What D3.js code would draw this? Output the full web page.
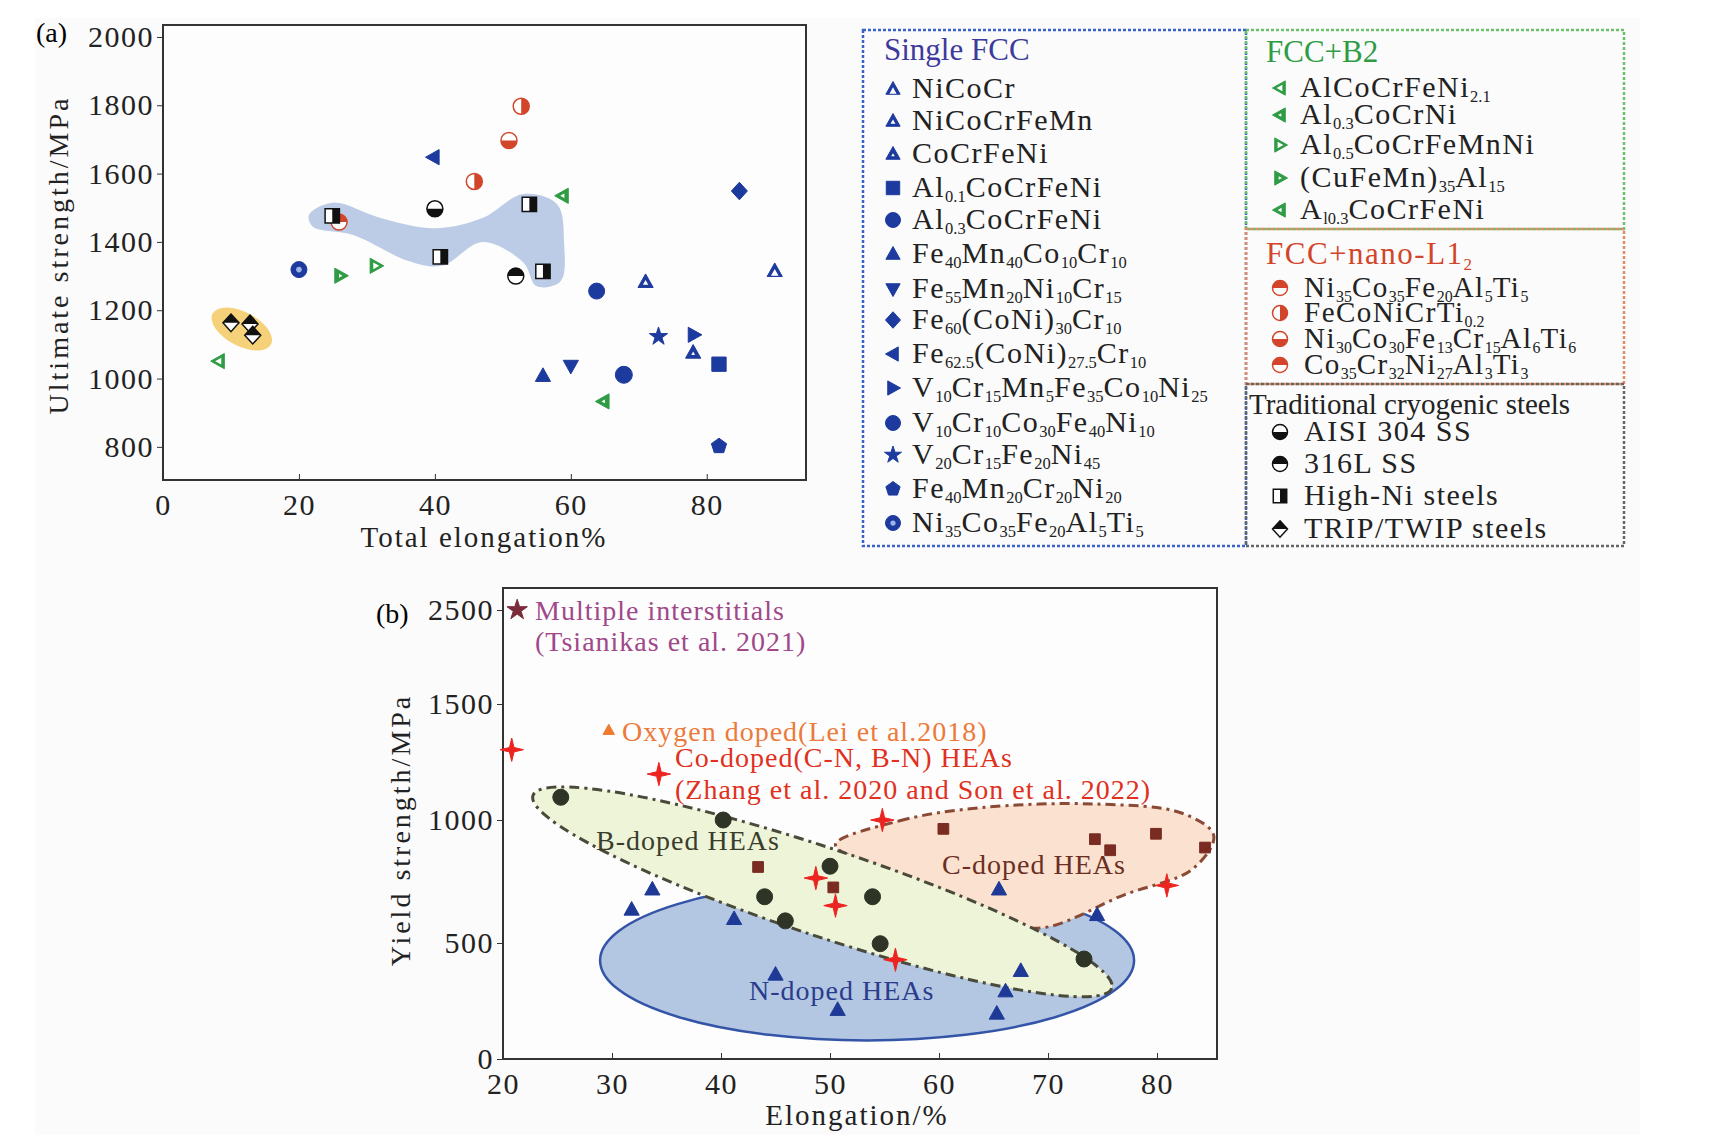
<!DOCTYPE html>
<html><head><meta charset="utf-8">
<script src="https://cdn.jsdelivr.net/npm/d3@7"></script>
<style>
body{margin:0;background:#fff;}
text{font-family:"Liberation Serif","DejaVu Serif",serif;}
</style></head>
<body><svg id="fig" width="1715" height="1142"></svg>
<script>
// ---- panel (a) data: [elongation %, UTS MPa] ----
const niCoCr = [[90, 1315]];
const niCoCrFeMn = [[71, 1283]];
const coCrFeNi = [[78, 1076]];
const al01 = [[81.8, 1042]];
const al03 = [[63.8, 1256]];
const fe40Mn40 = [[55.9, 1008]];
const fe55Mn20 = [[60, 1037]];
const fe60CoNi = [[84.8, 1549]];
const fe625CoNi = [[39.8, 1648]];
const v10Cr15 = [[78.1, 1128]];
const v10Cr10 = [[67.8, 1011]];
const v20Cr15 = [[72.9, 1123]];
const fe40Mn20 = [[81.8, 802]];
const ni35Single = [[20, 1319]];
const alCoCrFeNi21 = [[8.2, 1051]];
const al03CoCrNi = [[64.8, 933]];
const al05 = [[31.3, 1330]];
const cuFeMn = [[26.1, 1301]];
const a103 = [[58.8, 1535]];
const ni35L12 = [[25.9, 1458]];
const feCoNiCrTi = [[52.7, 1797], [45.8, 1577]];
const ni30L12 = [[50.9, 1697]];
const co35L12 = [];
const aisi304 = [[40, 1497]];
const ss316 = [[51.9, 1300]];
const highNi = [[24.9, 1476], [40.8, 1356], [53.9, 1510], [55.9, 1314]];
const tripTwip = [[10, 1163], [12.8, 1160], [13.2, 1127]];
const blobA = [[21.5,1480],[25,1515],[32,1470],[40,1440],[47,1470],[53,1540],[58,1510],[59,1400],[58.5,1285],[55,1270],[53,1340],[47,1400],[41,1330],[36,1345],[28,1420],[22,1445]];
const aXTicks = [0, 20, 40, 60, 80];
const aYTicks = [800, 1000, 1200, 1400, 1600, 1800, 2000];

// ---- panel (b) data: [elongation %, YS MPa] ----
const bDoped = [[25.3,1098],[40.2,1000],[50,812],[44,688],[45.9,590],[53.9,688],[54.6,497],[73.3,431]];
const nDoped = [[31.8,636],[33.7,718],[41.2,598],[45,364],[50.7,212],[65.5,718],[74.5,614],[67.5,380],[66.1,292],[65.3,196]];
const cDoped = [[43.4,809],[50.3,726],[60.4,964],[74.3,922],[75.7,877],[79.9,944],[84.4,888]];
const coDoped = [[20.8,1303],[34.3,1198],[54.8,1000],[48.7,764],[50.5,652],[56,428],[80.9,734]];
const oxygen = [[29.7,1387]];
const multi = [[21.3,2500]];
const cRegion = [[50.5,899],[56.4,997],[63.8,1053],[74.3,1069],[82.3,1029],[85.2,937],[83.3,802],[77,696],[69,560],[63.8,640],[55.8,786]];
const bXTicks = [20, 30, 40, 50, 60, 70, 80];
const bYTicks = [0, 500, 1000, 1500, 2500];

const BLUE = "#1d3a9e", GREEN = "#2f9c45", RED = "#d2452a", BLK = "#111";
const svg = d3.select("#fig");
svg.append("rect").attr("x", 35).attr("y", 18).attr("width", 1605).attr("height", 1117).attr("fill", "#fbfbfb");

// ---------- marker drawing ----------
function tri(dir, r) {
  const p = [[0,-r],[r*0.95,r*0.7],[-r*0.95,r*0.7]];
  const rot = {up:0, down:180, left:-90, right:90}[dir] * Math.PI / 180;
  return "M" + p.map(([x,y]) => [x*Math.cos(rot)-y*Math.sin(rot), x*Math.sin(rot)+y*Math.cos(rot)].join(",")).join("L") + "Z";
}
function shapePath(shape, r) {
  if (shape.startsWith("tri")) return tri(shape.slice(3), r);
  if (shape === "diamond") return `M0,${-r*1.1}L${r},0L0,${r*1.1}L${-r},0Z`;
  if (shape === "pentagon") return "M" + d3.range(5).map(i => { const a = -Math.PI/2 + i*2*Math.PI/5; return [r*Math.cos(a), r*Math.sin(a)].join(","); }).join("L") + "Z";
  if (shape === "star4") return "M0,-" + (r*1.3) + "L" + r*0.25 + ",-" + r*0.25 + "L" + r*1.3 + ",0L" + r*0.25 + "," + r*0.25 + "L0," + r*1.3 + "L-" + r*0.25 + "," + r*0.25 + "L-" + r*1.3 + ",0L-" + r*0.25 + ",-" + r*0.25 + "Z";
  const sym = {circle:d3.symbolCircle, square:d3.symbolSquare, star:d3.symbolStar};
  const area = {circle: Math.PI*r*r, square: 3.2*r*r, star: 1.6*r*r};
  return d3.symbol(sym[shape], area[shape])();
}
let clipId = 0;
function marker(g, x, y, m) {
  const r = m.r || 8;
  const grp = g.append("g").attr("transform", `translate(${x},${y})`);
  const d = shapePath(m.shape, r);
  if (m.half) {
    // half filled: base white with coloured outline, then coloured half clipped
    grp.append("path").attr("d", d).attr("fill", "#fff").attr("stroke", m.color).attr("stroke-width", 1.5);
    const id = "hc" + (clipId++);
    const box = {top:[-r*2,-r*2,r*4,r*2], bottom:[-r*2,0,r*4,r*2], left:[-r*2,-r*2,r*2,r*4], right:[0,-r*2,r*2,r*4]}[m.half];
    grp.append("clipPath").attr("id", id).append("rect").attr("x", box[0]).attr("y", box[1]).attr("width", box[2]).attr("height", box[3]);
    grp.append("path").attr("d", d).attr("fill", m.color).attr("clip-path", `url(#${id})`);
    return;
  }
  grp.append("path").attr("d", d).attr("fill", m.color).attr("stroke", m.color).attr("stroke-width", 1);
  if (m.hole) grp.append("path").attr("d", shapePath(m.shape, r*m.hole)).attr("fill", "#fff").attr("transform", m.holeShift ? `translate(0,${m.holeShift})` : null);
  if (m.dot) grp.append("circle").attr("r", r*0.35).attr("fill", "#9fb4e8");
}

// ---------- text with subscripts: "Al_{0.1}CoCrFeNi" ----------
function richText(g, x, y, str, size, color) {
  const t = g.append("text").attr("x", x).attr("y", y).attr("font-size", size).attr("fill", color).attr("letter-spacing", 1.5);
  let inSub = false;
  str.split(/(_\{[^}]*\})/).filter(s => s).forEach(s => {
    if (s.startsWith("_{")) { t.append("tspan").text(s.slice(2, -1)).attr("font-size", size*0.55).attr("dy", size*0.18).attr("letter-spacing", 0); inSub = true; }
    else { t.append("tspan").text(s).attr("dy", inSub ? -size*0.18 : 0); inSub = false; }
  });
  return t;
}

function styleAxis(g) {
  g.select(".domain").remove();
  g.selectAll("text").attr("font-size", 30).attr("letter-spacing", 1.5).attr("fill", "#222").attr("font-family", "Liberation Serif");
  g.selectAll("line").attr("stroke", "#333");
}

// =============== PANEL (a) ===============
const xa = d3.scaleLinear().domain([0, 94.6]).range([163, 806]);
const ya = d3.scaleLinear().domain([703, 2035]).range([480, 25]);
const ga = svg.append("g");
ga.append("rect").attr("x", 163).attr("y", 25).attr("width", 643).attr("height", 455).attr("fill", "#fdfdfd").attr("stroke", "#333").attr("stroke-width", 2);
ga.append("path").datum(blobA).attr("d", d3.line().x(d => xa(d[0])).y(d => ya(d[1])).curve(d3.curveCatmullRomClosed)).attr("fill", "#bccbe6");
ga.append("ellipse").attr("cx", xa(11.6)).attr("cy", ya(1145)).attr("rx", 33).attr("ry", 17)
  .attr("transform", `rotate(28,${xa(11.6)},${ya(1145)})`).attr("fill", "#f5d27a");
ga.append("g").attr("transform", "translate(0,480)").call(d3.axisBottom(xa).tickValues(aXTicks).tickFormat(d3.format("d")).tickSize(-6).tickPadding(14)).call(styleAxis);
ga.append("g").attr("transform", "translate(163,0)").call(d3.axisLeft(ya).tickValues(aYTicks).tickFormat(d3.format("d")).tickSize(6).tickPadding(3)).call(styleAxis);
ga.append("text").attr("x", 36).attr("y", 42).attr("font-size", 28).text("(a)");
ga.append("text").attr("transform", "translate(68,255) rotate(-90)").attr("text-anchor", "middle").attr("font-size", 28).attr("letter-spacing", 3).attr("fill", "#222").text("Ultimate strength/MPa");
ga.append("text").attr("x", 484).attr("y", 547).attr("text-anchor", "middle").attr("font-size", 29).attr("letter-spacing", 2).attr("fill", "#222").text("Total elongation%");

// legend entries: [label, data, marker style]
const singleFCC = [
  ["NiCoCr", niCoCr, {shape:"triup", color:BLUE, hole:0.5, holeShift:2}],
  ["NiCoCrFeMn", niCoCrFeMn, {shape:"triup", color:BLUE, hole:0.35, holeShift:1}],
  ["CoCrFeNi", coCrFeNi, {shape:"triup", color:BLUE, hole:0.25, holeShift:1}],
  ["Al_{0.1}CoCrFeNi", al01, {shape:"square", color:BLUE}],
  ["Al_{0.3}CoCrFeNi", al03, {shape:"circle", color:BLUE}],
  ["Fe_{40}Mn_{40}Co_{10}Cr_{10}", fe40Mn40, {shape:"triup", color:BLUE}],
  ["Fe_{55}Mn_{20}Ni_{10}Cr_{15}", fe55Mn20, {shape:"tridown", color:BLUE}],
  ["Fe_{60}(CoNi)_{30}Cr_{10}", fe60CoNi, {shape:"diamond", color:BLUE}],
  ["Fe_{62.5}(CoNi)_{27.5}Cr_{10}", fe625CoNi, {shape:"trileft", color:BLUE}],
  ["V_{10}Cr_{15}Mn_{5}Fe_{35}Co_{10}Ni_{25}", v10Cr15, {shape:"triright", color:BLUE}],
  ["V_{10}Cr_{10}Co_{30}Fe_{40}Ni_{10}", v10Cr10, {shape:"circle", color:BLUE, r:8.5}],
  ["V_{20}Cr_{15}Fe_{20}Ni_{45}", v20Cr15, {shape:"star", color:BLUE}],
  ["Fe_{40}Mn_{20}Cr_{20}Ni_{20}", fe40Mn20, {shape:"pentagon", color:BLUE}],
  ["Ni_{35}Co_{35}Fe_{20}Al_{5}Ti_{5}", ni35Single, {shape:"circle", color:BLUE, dot:true}],
];
const fccB2 = [
  ["AlCoCrFeNi_{2.1}", alCoCrFeNi21, {shape:"trileft", color:GREEN, hole:0.45}],
  ["Al_{0.3}CoCrNi", al03CoCrNi, {shape:"trileft", color:GREEN, hole:0.25}],
  ["Al_{0.5}CoCrFeMnNi", al05, {shape:"triright", color:GREEN, hole:0.45}],
  ["(CuFeMn)_{35}Al_{15}", cuFeMn, {shape:"triright", color:GREEN, hole:0.25}],
  ["A_{l0.3}CoCrFeNi", a103, {shape:"trileft", color:GREEN, hole:0.3}],
];
const fccL12 = [
  ["Ni_{35}Co_{35}Fe_{20}Al_{5}Ti_{5}", ni35L12, {shape:"circle", color:RED, half:"top"}],
  ["FeCoNiCrTi_{0.2}", feCoNiCrTi, {shape:"circle", color:RED, half:"right"}],
  ["Ni_{30}Co_{30}Fe_{13}Cr_{15}Al_{6}Ti_{6}", ni30L12, {shape:"circle", color:RED, half:"bottom"}],
  ["Co_{35}Cr_{32}Ni_{27}Al_{3}Ti_{3}", co35L12, {shape:"circle", color:RED, half:"top"}],
];
const steels = [
  ["AISI 304 SS", aisi304, {shape:"circle", color:BLK, half:"bottom"}],
  ["316L SS", ss316, {shape:"circle", color:BLK, half:"top"}],
  ["High-Ni steels", highNi, {shape:"square", color:BLK, half:"right"}],
  ["TRIP/TWIP steels", tripTwip, {shape:"diamond", color:BLK, half:"top"}],
];

[singleFCC, fccB2, fccL12, steels].forEach(grp => grp.forEach(([, data, m]) => data.forEach(d => marker(ga, xa(d[0]), ya(d[1]), m))));

// legend boxes
const lg = svg.append("g");
function box(x, y, w, h, color) {
  lg.append("rect").attr("x", x).attr("y", y).attr("width", w).attr("height", h).attr("fill", "none").attr("stroke", color).attr("stroke-width", 2.5).attr("stroke-dasharray", "3,2");
}
box(863, 30, 383, 516, "#3a62c8");
box(1246, 30, 378, 199, "#6cc06c");
box(1246, 229, 378, 155, "#e08a66");
box(1246, 384, 378, 162, "#666");
function legendRows(items, mx, tx, rows, size) {
  items.forEach(([label, , m], i) => {
    marker(lg, mx, rows[i] - 9, Object.assign({}, m, {r: 7.5}));
    richText(lg, tx, rows[i], label, size, "#222");
  });
}
lg.append("text").attr("x", 884).attr("y", 60).attr("font-size", 31).attr("fill", "#3c3a9c").text("Single FCC");
legendRows(singleFCC, 893, 912, [98,130,163,197,229,263,298,329,363,397,432,464,498,532], 30);
lg.append("text").attr("x", 1266).attr("y", 62).attr("font-size", 31).attr("fill", GREEN).text("FCC+B2");
legendRows(fccB2, 1280, 1300, [97,124,154,187,219], 30);
richText(lg, 1266, 264, "FCC+nano-L1_{2}", 31, RED);
legendRows(fccL12, 1280, 1304, [297,322,348,374], 29);
lg.append("text").attr("x", 1249).attr("y", 414).attr("font-size", 29).attr("fill", "#222").text("Traditional cryogenic steels");
legendRows(steels, 1280, 1304, [441,473,505,538], 30);

// =============== PANEL (b) ===============
const xb = d3.scaleLinear().domain([20, 85.5]).range([503, 1217]);
const yb = d3.scaleLinear().domain([0, 500, 1000, 1500, 2500, 2734]).range([1059, 943, 820, 704, 610, 588]);
const gb = svg.append("g");
gb.append("rect").attr("x", 503).attr("y", 588).attr("width", 714).attr("height", 471).attr("fill", "#fdfdfd").attr("stroke", "#333").attr("stroke-width", 2);
const cx = xb(53.4), cy = yb(425);
gb.append("ellipse").attr("cx", cx).attr("cy", cy).attr("rx", 267).attr("ry", 80).attr("fill", "#b3c6e2").attr("stroke", "#3454a8").attr("stroke-width", 2.5);
gb.append("path").datum(cRegion).attr("d", d3.line().x(d => xb(d[0])).y(d => yb(d[1])).curve(d3.curveCatmullRomClosed))
  .attr("fill", "#fbe1cf").attr("stroke", "#8a4a36").attr("stroke-width", 3).attr("stroke-dasharray", "10,5,3,5");
const bx = xb(49.3), by = yb(708);
gb.append("ellipse").attr("cx", bx).attr("cy", by).attr("rx", 305).attr("ry", 44).attr("transform", `rotate(18.4,${bx},${by})`)
  .attr("fill", "#eef4d8").attr("stroke", "#4a4a3a").attr("stroke-width", 3).attr("stroke-dasharray", "10,5,3,5");
gb.append("g").attr("transform", "translate(0,1059)").call(d3.axisBottom(xb).tickValues(bXTicks).tickFormat(d3.format("d")).tickSize(-6).tickPadding(14)).call(styleAxis);
gb.append("g").attr("transform", "translate(503,0)").call(d3.axisLeft(yb).tickValues(bYTicks).tickFormat(d3.format("d")).tickSize(6).tickPadding(3)).call(styleAxis);
gb.append("text").attr("x", 376).attr("y", 623).attr("font-size", 28).text("(b)");
gb.append("text").attr("transform", "translate(410,830) rotate(-90)").attr("text-anchor", "middle").attr("font-size", 28).attr("letter-spacing", 3).attr("fill", "#222").text("Yield strength/MPa");
gb.append("text").attr("x", 857).attr("y", 1125).attr("text-anchor", "middle").attr("font-size", 29).attr("letter-spacing", 2).attr("fill", "#222").text("Elongation/%");

bDoped.forEach(d => marker(gb, xb(d[0]), yb(d[1]), {shape:"circle", color:"#2f3526", r:8}));
nDoped.forEach(d => marker(gb, xb(d[0]), yb(d[1]), {shape:"triup", color:"#1e3a96", r:8}));
cDoped.forEach(d => marker(gb, xb(d[0]), yb(d[1]), {shape:"square", color:"#7a2c22", r:6}));
coDoped.forEach(d => marker(gb, xb(d[0]), yb(d[1]), {shape:"star4", color:"#ec2420", r:9}));
oxygen.forEach(d => marker(gb, xb(d[0]), yb(d[1]), {shape:"triup", color:"#ee7b30", r:6}));
multi.forEach(d => marker(gb, xb(d[0]), yb(d[1]), {shape:"star", color:"#7a2c3a", r:9}));

const note = (x, y, s, c) => gb.append("text").attr("x", x).attr("y", y).attr("font-size", 28).attr("letter-spacing", 1).attr("fill", c).text(s);
note(535, 620, "Multiple interstitials", "#a0488a");
note(535, 651, "(Tsianikas et al. 2021)", "#a0488a");
note(622, 741, "Oxygen doped(Lei et al.2018)", "#ec7a3a");
note(675, 767, "Co-doped(C-N, B-N) HEAs", "#e0301e");
note(675, 799, "(Zhang et al. 2020 and Son et al. 2022)", "#e0301e");
note(596, 850, "B-doped HEAs", "#3a3d2c");
note(942, 874, "C-doped HEAs", "#6a2e22");
note(749, 1000, "N-doped HEAs", "#2a3c8c");
</script></body></html>
